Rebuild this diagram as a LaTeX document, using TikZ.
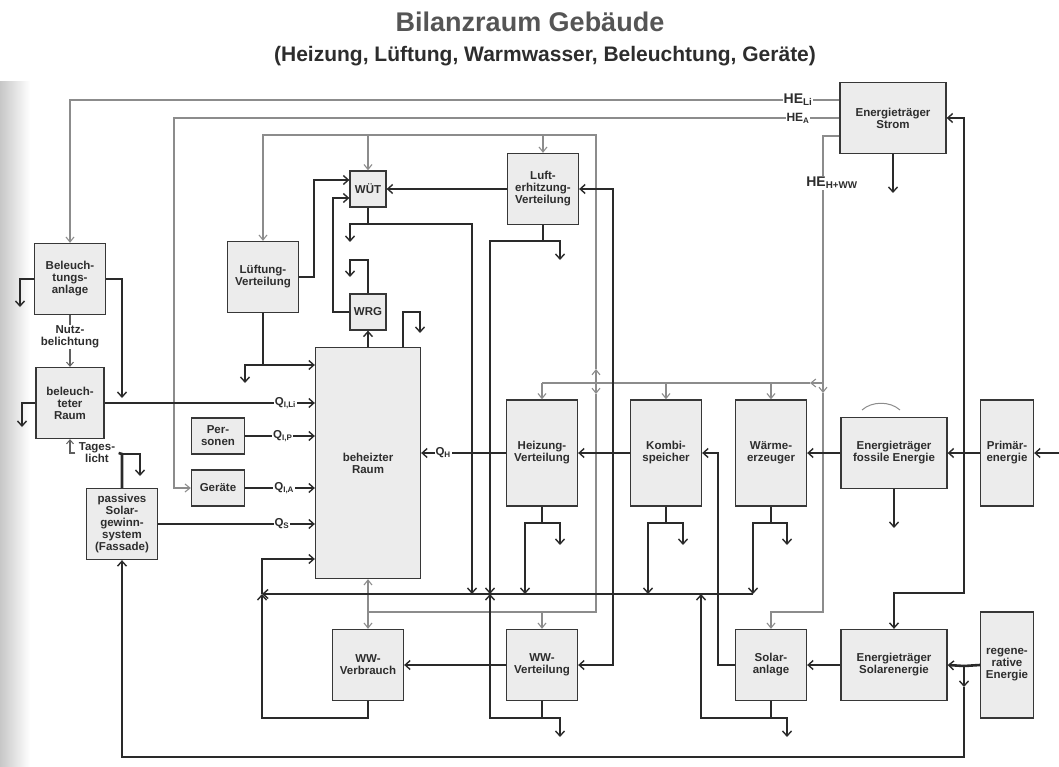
\documentclass[tikz,border=0pt]{standalone}
\usepackage{fontspec}
\setmainfont{Liberation Sans}
\usetikzlibrary{arrows.meta,positioning,calc}
\definecolor{txtgrey}{RGB}{45,45,45}
\definecolor{titlegrey}{RGB}{85,85,85}
\definecolor{boxgrey}{RGB}{236,236,236}
\definecolor{edgegrey}{RGB}{55,55,55}
\definecolor{heatdark}{RGB}{42,42,42}
\definecolor{auxgrey}{RGB}{140,140,140}
\tikzset{
  base/.style={font=\fontsize{11.5}{12}\selectfont\bfseries, align=center, text=txtgrey},
  box/.style={base, rectangle, draw=edgegrey, fill=boxgrey, line width=1.3pt, inner sep=0pt},
  sqbox/.style={box, minimum width=71pt, minimum height=71pt},
  tallbox/.style={box, minimum width=71pt, minimum height=106pt},
  widebox/.style={box, minimum width=106pt, minimum height=71pt},
  slimbox/.style={box, minimum width=53pt, minimum height=106pt},
  smallbox/.style={box, minimum width=36pt, minimum height=36pt},
  flatbox/.style={box, minimum width=53pt, minimum height=36pt},
  heat/.style={line width=2.6pt, draw=heatdark},
  heatarr/.style={heat, -{Straight Barb[length=5pt,width=9pt,line width=1.4pt]}},
  thinarr/.style={line width=1.2pt, draw=heatdark!75, -{Straight Barb[length=4pt,width=7pt,line width=1pt]}},
  aux/.style={line width=1.8pt, draw=auxgrey},
  auxarr/.style={aux, -{Straight Barb[length=5pt,width=8pt,line width=1.1pt]}},
  qlab/.style={base, font=\fontsize{11.5}{12}\selectfont\bfseries, fill=white, inner sep=1pt},
  helab/.style={base, font=\fontsize{14}{15}\selectfont\bfseries, fill=white, inner sep=1pt},
}
\begin{document}
\begin{tikzpicture}[x=1pt,y=-1pt]
  \useasboundingbox (0,0) rectangle (1059,767);
  \shade[left color=black!22, right color=white] (0,82) rectangle (30,767);
  % title
  \node[font=\fontsize{27}{30}\selectfont\bfseries, text=titlegrey] (title) at (530,22) {Bilanzraum Gebäude};
  \node[font=\fontsize{21}{24}\selectfont\bfseries, text=txtgrey] (subtitle) at (545,56) {(Heizung, Lüftung, Warmwasser, Beleuchtung, Geräte)};
  % boxes
  \node[widebox] (strom) at (893,118) {Energieträger\\Strom};
  \node[sqbox] (belanl) at (70,279) {Beleuch-\\tungs-\\anlage};
  \node[sqbox] (lueft) at (263,277) {Lüftung-\\Verteilung};
  \node[smallbox] (wuet) at (368,189) {WÜT};
  \node[smallbox] (wrg) at (368,312) {WRG};
  \node[box, minimum width=105pt, minimum height=231pt] (raum) at (368,463) {beheizter\\Raum};
  \node[sqbox] (lufterh) at (543,189) {Luft-\\erhitzung-\\Verteilung};
  \node[sqbox, minimum width=68pt] (belraum) at (70,403) {beleuch-\\teter\\Raum};
  \node[flatbox] (pers) at (218,436) {Per-\\sonen};
  \node[flatbox] (geraete) at (218,488) {Geräte};
  \node[sqbox] (passiv) at (122,524) {passives\\Solar-\\gewinn-\\system\\(Fassade)};
  \node[tallbox] (heizv) at (542,453) {Heizung-\\Verteilung};
  \node[tallbox] (kombi) at (666,453) {Kombi-\\speicher};
  \node[tallbox] (waerme) at (771,453) {Wärme-\\erzeuger};
  \node[widebox] (fossil) at (894,453) {Energieträger\\fossile Energie};
  \node[slimbox] (primaer) at (1007,453) {Primär-\\energie};
  \node[sqbox] (wwverb) at (368,665) {WW-\\Verbrauch};
  \node[sqbox] (wwvert) at (542,665) {WW-\\Verteilung};
  \node[sqbox] (solaran) at (771,665) {Solar-\\anlage};
  \node[widebox] (solaren) at (894,665) {Energieträger\\Solarenergie};
  \node[slimbox] (regen) at (1007,665) {regene-\\rative\\Energie};
  \node[base] (tages) at (97,453) {Tages-\\licht};
  % junctions and free ends
  \foreach \n/\x/\y in {v1/314/180, v2/333/198, j1/263/365, j2/368/224, j3/543/241,
      j4/613/453, j5/542/523, j6/666/523, j7/771/523, j8/542/718, j9/771/718,
      j10/964/453, j11/964/666, tj/122/454, c5/420/312, c6/350/260, c7/718/453,
      c8/122/398, c9/894/593, c10/122/757, m1/964/687, pin/1059/453,
      b0/262/594, b1/753/594, bwu/472/594, blu/490/594, bhz/525/594, bkb/648/594, bsa/701/594,
      r1/262/559, r2/262/718,
      l1/20/307, l2/22/427, l3/140/476, l4/245/383, l5/420/333, l6/350/277, l7/350/242,
      l8/560/260, l9/560/545, l10/683/545, l11/787/545, l12/894/528, l13/893/193,
      l14/560/737, l15/787/737,
      g1/174/488, g2/823/383, g3/810/383, g4/542/383, g5/823/393, g6/771/612,
      g7/596/383, g8/596/369, g10/263/135, g11/596/394, g12/368/612}
    \coordinate (\n) at (\x,\y);
  % auxiliary energy (grey)
  \draw[auxarr] (strom.west |- 0,100) -| (belanl.north);
  \draw[auxarr] (strom.west) -| (g1) -- (geraete.west);
  \draw[aux] ([yshift=-18pt]strom.west) -| (g2);
  \draw[auxarr] (g2) -- (g3);
  \draw[aux] (g3) -- (g4);
  \draw[auxarr] (g4) -- (heizv.north);
  \draw[auxarr] (kombi.north |- g4) -- (kombi.north);
  \draw[auxarr] (waerme.north |- g4) -- (waerme.north);
  \draw[auxarr] (g2) -- (g5);
  \draw[auxarr] (g5) |- (g6) -- (solaran.north);
  \draw[auxarr] (g7) -- (g8);
  \draw[auxarr] (g8) |- (g10) -- (lueft.north);
  \draw[auxarr] (wuet.north |- g10) -- (wuet.north);
  \draw[auxarr] (lufterh.north |- g10) -- (lufterh.north);
  \draw[auxarr] (g7) -- (g11);
  \draw[aux] (g11) |- (g12);
  \draw[auxarr] (g12) -- (raum.south);
  \draw[auxarr] (g12) -- (wwverb.north);
  \draw[auxarr] (wwvert.north |- g12) -- (wwvert.north);
  \node[helab] (heli) at (798,100) {HE\textsubscript{Li}};
  \node[helab, font=\fontsize{12}{13}\selectfont\bfseries] (hea) at (798,118) {HE\textsubscript{A}};
  \node[helab] (hehw) at (832,183) {HE\textsubscript{H+WW}};
  % lighting
  \draw[heatarr] (belanl.east) -| (c8);
  \draw[heatarr] (belanl.west) -| (l1);
  \draw[thinarr] (belanl.south) -- node[base, fill=white, pos=.42, inner sep=1pt] {Nutz-\\belichtung} (belraum.north);
  \draw[heatarr] (belraum.east) -- node[qlab, pos=.86] {Q\textsubscript{I,Li}} (belraum.east -| raum.west);
  \draw[heatarr] (belraum.west) -| (l2);
  \draw[thinarr] (tages.west) -| (belraum.south);
  \draw[heat] (passiv.north) -- (tj) -- (tages.east);
  \draw[heatarr] (tj) -| (l3);
  \draw[heatarr] (passiv.east) -- node[qlab, pos=.79] {Q\textsubscript{S}} (passiv.east -| raum.west);
  \draw[heatarr] (pers.east) -- node[qlab, pos=.54] {Q\textsubscript{I,P}} (pers.east -| raum.west);
  \draw[heatarr] (geraete.east) -- node[qlab, pos=.56] {Q\textsubscript{I,A}} (geraete.east -| raum.west);
  % ventilation
  \draw[heatarr] (lueft.east) -| (v1) -- (v1 -| wuet.west);
  \draw[heatarr] (wrg.west) -| (v2) -- (v2 -| wuet.west);
  \draw[heat] (lueft.south) -- (j1);
  \draw[heatarr] (j1) -- (j1 -| raum.west);
  \draw[heatarr] (j1) -| (l4);
  \draw[heat] (wuet.south) -- (j2);
  \draw[heatarr] (j2) -| (l7);
  \draw[heatarr] (j2) -| (bwu);
  \draw[heatarr] (raum.north) -- (wrg.south);
  \draw[heatarr] (wrg.north) |- (c6) -- (l6);
  \draw[heatarr] ([xshift=-18pt]raum.north east) |- (c5) -- (l5);
  \draw[heatarr] (lufterh.west) -- (wuet.east);
  \draw[heat] (lufterh.south) -- (j3);
  \draw[heatarr] (j3) -| (blu);
  \draw[heatarr] (j3) -| (l8);
  % heating
  \draw[heatarr] (heizv.west) -- node[qlab, pos=.74] {Q\textsubscript{H}} (heizv.west -| raum.east);
  \draw[heatarr] (kombi.west) -- (heizv.east);
  \draw[heatarr] (j4) |- (lufterh.east);
  \draw[heatarr] (j4) |- (wwvert.east);
  \draw[heat] (heizv.south) -- (j5);
  \draw[heatarr] (j5) -| (bhz);
  \draw[heatarr] (j5) -| (l9);
  \draw[heat] (kombi.south) -- (j6);
  \draw[heatarr] (j6) -| (bkb);
  \draw[heatarr] (j6) -| (l10);
  \draw[heat] (waerme.south) -- (j7);
  \draw[heatarr] (j7) -| (b1);
  \draw[heatarr] (j7) -| (l11);
  \draw[heatarr] (b1) -- (b0);
  \draw[heatarr] (b0) -- (r1) -- (r1 -| raum.west);
  % hot water
  \draw[heatarr] (wwverb.south) |- (r2) -- (b0);
  \draw[heatarr] (wwvert.west) -- (wwverb.east);
  \draw[heat] (wwvert.south) -- (j8);
  \draw[heatarr] (j8) -| (blu);
  \draw[heatarr] (j8) -| (l14);
  \draw[heat] (solaran.south) -- (j9);
  \draw[heatarr] (j9) -| (bsa);
  \draw[heatarr] (j9) -| (l15);
  \draw[heatarr] (solaran.west) -| (c7) -- (kombi.east);
  % energy carriers
  \draw[heatarr] (fossil.west) -- (waerme.east);
  \draw[heatarr] (fossil.south) -- (l12);
  \draw[auxgrey, line width=1pt] (862,410) .. controls (872,401) and (890,401) .. (900,410);
  \draw[heatarr] (pin) -- (primaer.east);
  \draw[heat] (primaer.west) -- (j10);
  \draw[heatarr] (j10) -- (fossil.east);
  \draw[heatarr] (j10) |- (strom.east);
  \draw[heatarr] (j10) |- (c9) -- (solaren.north);
  \draw[heatarr] (strom.south) -- (l13);
  \draw[heat] (regen.west) -- (j11);
  \draw[heatarr] (j11) -- (solaren.east);
  \draw[heatarr] (j11) -- (m1);
  \draw[heatarr] (m1) |- (c10) -- (passiv.south);
  \draw[heatarr] (solaren.west) -- (solaran.east);
\end{tikzpicture}
\end{document}
